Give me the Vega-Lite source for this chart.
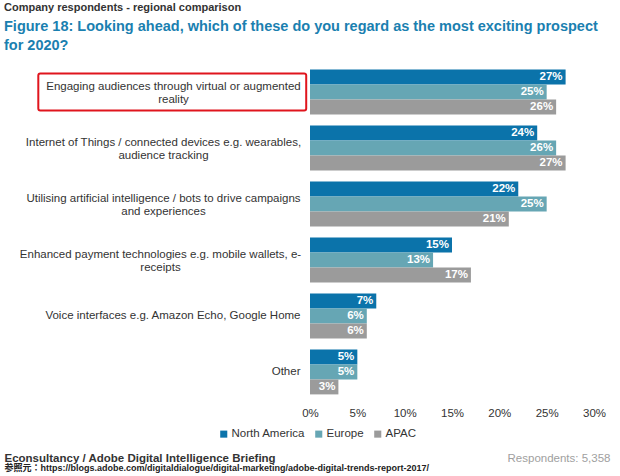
{
  "$schema": "https://vega.github.io/schema/vega-lite/v6.json",
  "autosize": {"type": "none"},
  "width": 284,
  "height": 336,
  "padding": {"left": 310, "top": 64, "right": 26, "bottom": 76},
  "background": "white",
  "config": {
    "view": {"stroke": null},
    "font": "Liberation Sans, Noto Sans CJK JP"
  },
  "title": {
    "text": "Company respondents - regional comparison",
    "subtitle": ["Figure 18: Looking ahead, which of these do you regard as the most exciting prospect", "for 2020?"],
    "anchor": "start",
    "frame": "group",
    "dx": -306,
    "offset": 12,
    "fontSize": 11,
    "fontWeight": "bold",
    "color": "#333333",
    "subtitleFontSize": 14.5,
    "subtitleFontWeight": "bold",
    "subtitleColor": "#1a80b0",
    "subtitleLineHeight": 19,
    "subtitlePadding": 7
  },
  "datasets": {
    "main": [
      {"cat": "Engaging audiences through virtual or augmented|reality", "region": "North America", "v": 0.27},
      {"cat": "Engaging audiences through virtual or augmented|reality", "region": "Europe", "v": 0.25},
      {"cat": "Engaging audiences through virtual or augmented|reality", "region": "APAC", "v": 0.26},
      {"cat": "Internet of Things / connected devices e.g. wearables,|audience tracking", "region": "North America", "v": 0.24},
      {"cat": "Internet of Things / connected devices e.g. wearables,|audience tracking", "region": "Europe", "v": 0.26},
      {"cat": "Internet of Things / connected devices e.g. wearables,|audience tracking", "region": "APAC", "v": 0.27},
      {"cat": "Utilising artificial intelligence / bots to drive campaigns|and experiences", "region": "North America", "v": 0.22},
      {"cat": "Utilising artificial intelligence / bots to drive campaigns|and experiences", "region": "Europe", "v": 0.25},
      {"cat": "Utilising artificial intelligence / bots to drive campaigns|and experiences", "region": "APAC", "v": 0.21},
      {"cat": "Enhanced payment technologies e.g. mobile wallets, e-|receipts", "region": "North America", "v": 0.15},
      {"cat": "Enhanced payment technologies e.g. mobile wallets, e-|receipts", "region": "Europe", "v": 0.13},
      {"cat": "Enhanced payment technologies e.g. mobile wallets, e-|receipts", "region": "APAC", "v": 0.17},
      {"cat": "Voice interfaces e.g. Amazon Echo, Google Home", "region": "North America", "v": 0.07},
      {"cat": "Voice interfaces e.g. Amazon Echo, Google Home", "region": "Europe", "v": 0.06},
      {"cat": "Voice interfaces e.g. Amazon Echo, Google Home", "region": "APAC", "v": 0.06},
      {"cat": "Other", "region": "North America", "v": 0.05},
      {"cat": "Other", "region": "Europe", "v": 0.05},
      {"cat": "Other", "region": "APAC", "v": 0.03}
    ],
    "box": [
      {"cat": "Engaging audiences through virtual or augmented|reality"}
    ]
  },
  "layer": [
    {
      "data": {"name": "main"},
      "mark": {"type": "bar"},
      "encoding": {
        "y": {
          "field": "cat", "type": "nominal", "sort": null,
          "scale": {"paddingInner": 0.2, "paddingOuter": 0.1},
          "axis": {
            "title": "参照元：https://blogs.adobe.com/digitaldialogue/digital-marketing/adobe-digital-trends-report-2017/",
            "titleAngle": 0,
            "titleX": -306,
            "titleY": 406,
            "titleAlign": "left",
            "titleBaseline": "alphabetic",
            "titleFontSize": 9,
            "titleFontWeight": "bold",
            "titleColor": "#222222",
            "domain": false,
            "ticks": false,
            "labelExpr": "split(datum.label, '|')",
            "labelFontSize": 11.5,
            "labelColor": "#333333",
            "labelLineHeight": 13,
            "labelLimit": 320,
            "labelAlign": {"condition": {"test": "indexof(datum.value, '|') >= 0", "value": "center"}, "value": "right"},
            "labelOffset": {"condition": {"test": "indexof(datum.value, '|') >= 0", "value": -5}, "value": 0},
            "labelPadding": {"condition": [
              {"test": "indexof(datum.value, 'Engaging') == 0", "value": 137},
              {"test": "indexof(datum.value, 'Internet') == 0", "value": 147},
              {"test": "indexof(datum.value, 'Utilising') == 0", "value": 147},
              {"test": "indexof(datum.value, 'Enhanced') == 0", "value": 150}
            ], "value": 10}
          }
        },
        "yOffset": {"field": "region", "type": "nominal", "sort": ["North America", "Europe", "APAC"], "scale": {"paddingInner": 0, "paddingOuter": 0}},
        "x": {
          "field": "v", "type": "quantitative",
          "scale": {"domain": [0, 0.3], "nice": false},
          "axis": {
            "values": [0, 0.05, 0.1, 0.15, 0.2, 0.25, 0.3],
            "format": ".0%",
            "domain": false,
            "ticks": false,
            "grid": false,
            "labelFlush": false,
            "labelPadding": 7,
            "labelFontSize": 11.5,
            "labelColor": "#333333",
            "title": "Econsultancy / Adobe Digital Intelligence Briefing",
            "titleX": -306,
            "titleY": 61,
            "titleAlign": "left",
            "titleBaseline": "alphabetic",
            "titleFontSize": 11.5,
            "titleFontWeight": "bold",
            "titleColor": "#333333"
          }
        },
        "color": {
          "field": "region", "type": "nominal",
          "sort": ["North America", "Europe", "APAC"],
          "scale": {"domain": ["North America", "Europe", "APAC"], "range": ["#0b73aa", "#66a6b4", "#9b9b9b"]},
          "legend": {
            "title": null,
            "orient": "none",
            "direction": "horizontal",
            "legendX": -92,
            "legendY": 364,
            "symbolType": "square",
            "symbolSize": 50,
            "symbolStrokeWidth": 0,
            "labelFontSize": 11.5,
            "labelColor": "#333333",
            "labelOffset": 2,
            "columnPadding": 8
          }
        }
      }
    },
    {
      "data": {"name": "main"},
      "mark": {"type": "text", "align": "right", "baseline": "middle", "dx": -3, "color": "white", "fontWeight": "bold", "fontSize": 11.5},
      "encoding": {
        "y": {"field": "cat", "type": "nominal", "sort": null, "axis": null},
        "yOffset": {"field": "region", "type": "nominal", "sort": ["North America", "Europe", "APAC"]},
        "x": {"field": "v", "type": "quantitative"},
        "text": {"field": "v", "type": "quantitative", "format": ".0%"}
      }
    },
    {
      "data": {"name": "box"},
      "mark": {"type": "bar", "filled": false, "stroke": "#e0151d", "strokeWidth": 2, "cornerRadius": 2, "height": {"band": 0.83}, "clip": false},
      "encoding": {
        "y": {
          "field": "cat", "type": "nominal", "sort": null,
          "axis": {
            "orient": "right",
            "labels": false,
            "domain": false,
            "ticks": false,
            "title": "Respondents: 5,358",
            "titleAngle": 0,
            "titleX": 16,
            "titleY": 397,
            "titleAlign": "right",
            "titleBaseline": "alphabetic",
            "titleFontSize": 11.5,
            "titleFontWeight": "normal",
            "titleColor": "#a0a0a0"
          }
        },
        "x": {"datum": -0.287},
        "x2": {"datum": -0.004}
      }
    }
  ],
  "resolve": {"axis": {"y": "independent"}}
}
